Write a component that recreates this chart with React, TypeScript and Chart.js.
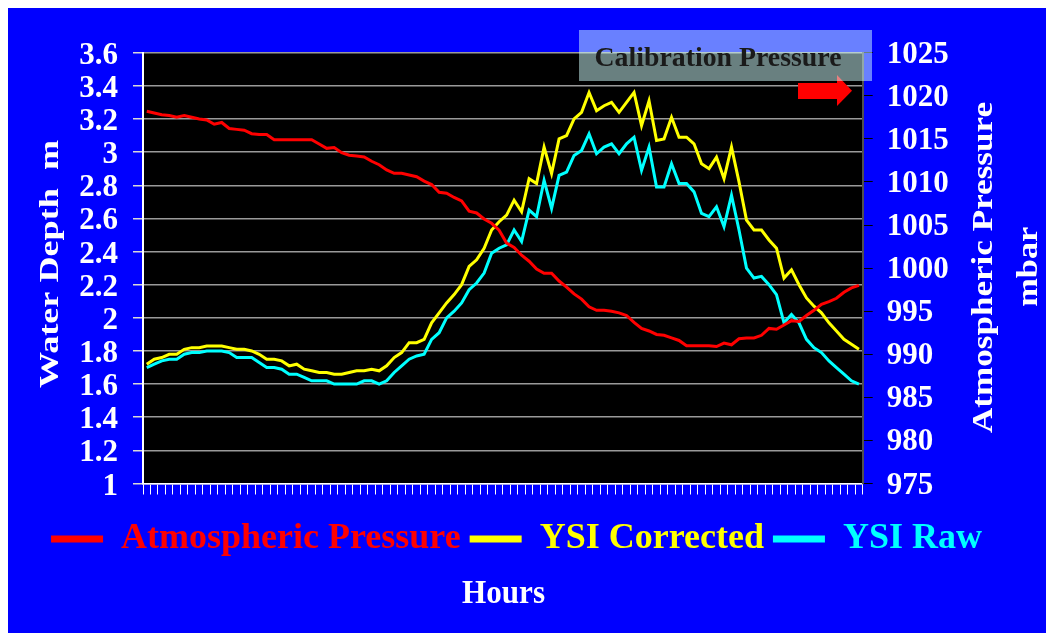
import React, { useEffect, useRef } from "react";
import { Chart, registerables } from "chart.js";

Chart.register(...registerables);

// ---------- data ----------
const hours = [
  "1", "2", "3", "4", "5", "6", "7", "8", "9", "10", "11", "12", "13", "14", "15", "16",
  "17", "18", "19", "20", "21", "22", "23", "24", "25", "26", "27", "28", "29", "30", "31", "32",
  "33", "34", "35", "36", "37", "38", "39", "40", "41", "42", "43", "44", "45", "46", "47", "48",
  "49", "50", "51", "52", "53", "54", "55", "56", "57", "58", "59", "60", "61", "62", "63", "64",
  "65", "66", "67", "68", "69", "70", "71", "72", "73", "74", "75", "76", "77", "78", "79", "80",
  "81", "82", "83", "84", "85", "86", "87", "88", "89", "90", "91", "92", "93", "94", "95", "96",
];

const atmosphericPressure = [
  1018.2, 1018.0, 1017.8, 1017.7, 1017.5, 1017.7, 1017.5, 1017.3, 1017.2, 1016.7, 1016.9, 1016.2,
  1016.1, 1016.0, 1015.6, 1015.5, 1015.5, 1014.9, 1014.9, 1014.9, 1014.9, 1014.9, 1014.9, 1014.4,
  1013.9, 1014.0, 1013.4, 1013.1, 1013.0, 1012.9, 1012.4, 1012.0, 1011.4, 1011.0, 1011.0, 1010.8,
  1010.6, 1010.1, 1009.7, 1008.8, 1008.7, 1008.2, 1007.8, 1006.6, 1006.4, 1005.7, 1005.2, 1004.4,
  1002.9, 1002.4, 1001.5, 1000.8, 999.9, 999.4, 999.4, 998.5, 997.8, 997.0, 996.4, 995.5,
  995.1, 995.1, 995.0, 994.8, 994.5, 993.7, 993.0, 992.7, 992.3, 992.2, 991.9, 991.6,
  991.0, 991.0, 991.0, 991.0, 990.9, 991.3, 991.1, 991.8, 991.9, 991.9, 992.2, 993.0,
  992.9, 993.4, 993.9, 993.8, 994.5, 995.1, 995.8, 996.1, 996.5, 997.2, 997.7, 998.0,
];

const ysiCorrected = [
  1.72, 1.75, 1.76, 1.78, 1.78, 1.81, 1.82, 1.82, 1.83, 1.83, 1.83, 1.82,
  1.81, 1.81, 1.80, 1.78, 1.75, 1.75, 1.74, 1.71, 1.72, 1.69, 1.68, 1.67,
  1.67, 1.66, 1.66, 1.67, 1.68, 1.68, 1.69, 1.68, 1.71, 1.76, 1.79, 1.85,
  1.85, 1.87, 1.97, 2.03, 2.09, 2.14, 2.20, 2.31, 2.35, 2.42, 2.53, 2.58,
  2.62, 2.71, 2.64, 2.84, 2.81, 3.03, 2.87, 3.08, 3.10, 3.20, 3.24, 3.36,
  3.25, 3.28, 3.30, 3.24, 3.30, 3.36, 3.16, 3.31, 3.07, 3.08, 3.21, 3.09,
  3.09, 3.05, 2.93, 2.90, 2.97, 2.84, 3.03, 2.82, 2.59, 2.53, 2.53, 2.47,
  2.42, 2.24, 2.29, 2.20, 2.12, 2.07, 2.03, 1.97, 1.92, 1.87, 1.84, 1.81,
];

const ysiRaw = [
  1.70, 1.72, 1.74, 1.75, 1.75, 1.78, 1.79, 1.79, 1.80, 1.80, 1.80, 1.79,
  1.76, 1.76, 1.76, 1.73, 1.70, 1.70, 1.69, 1.66, 1.66, 1.64, 1.62, 1.62,
  1.62, 1.60, 1.60, 1.60, 1.60, 1.62, 1.62, 1.60, 1.62, 1.67, 1.71, 1.75,
  1.77, 1.78, 1.87, 1.91, 2.00, 2.04, 2.09, 2.17, 2.21, 2.27, 2.39, 2.42,
  2.44, 2.53, 2.46, 2.65, 2.61, 2.83, 2.66, 2.86, 2.88, 2.98, 3.01, 3.11,
  2.99, 3.03, 3.05, 2.99, 3.05, 3.09, 2.89, 3.03, 2.79, 2.79, 2.93, 2.81,
  2.81, 2.76, 2.63, 2.61, 2.67, 2.55, 2.74, 2.53, 2.30, 2.24, 2.25, 2.20,
  2.14, 1.97, 2.02, 1.97, 1.87, 1.82, 1.79, 1.74, 1.70, 1.66, 1.62, 1.60,
];

const seriesNames = ["Atmospheric Pressure", "YSI Corrected", "YSI Raw"];
const seriesColors = ["#ff0000", "#ffff00", "#00ffff"];

const depthMin = 1;
const depthMax = 3.6;
const depthStep = 0.2;
const pressureMin = 975;
const pressureMax = 1025;
const pressureStep = 5;

const leftTitle = "Water Depth  m";
const rightTitleLines = ["Atmospheric Pressure", "mbar"];
const xTitle = "Hours";
const calibrationLabel = "Calibration Pressure";

// ---------- styling ----------
const SERIF = '"Liberation Serif", "Times New Roman", Times, serif';

function drawFitted(
  ctx: CanvasRenderingContext2D,
  text: string,
  x: number,
  y: number,
  targetWidth: number,
  rotate: number
) {
  const w = ctx.measureText(text).width;
  const s = targetWidth / w;
  ctx.save();
  ctx.translate(x, y);
  if (rotate) ctx.rotate(rotate);
  ctx.scale(s, 1);
  ctx.fillText(text, 0, 0);
  ctx.restore();
}

const decorPlugin = {
  id: "decor",
  beforeDraw(chart: any) {
    const { ctx, width, height, chartArea: a } = chart;
    ctx.save();
    ctx.fillStyle = "#0000ff";
    ctx.fillRect(0, 0, width, height);
    ctx.fillStyle = "#000000";
    ctx.fillRect(a.left, a.top, a.right - a.left, a.bottom - a.top);
    ctx.restore();
  },
  afterDraw(chart: any) {
    const ctx: CanvasRenderingContext2D = chart.ctx;
    ctx.save();
    // red arrow pointing at the calibration pressure
    ctx.fillStyle = "#ff0000";
    ctx.fillRect(790, 75, 39, 16);
    ctx.beginPath();
    ctx.moveTo(829, 67);
    ctx.lineTo(844, 82.7);
    ctx.lineTo(829, 98);
    ctx.closePath();
    ctx.fill();
    // translucent label box
    ctx.fillStyle = "rgba(210,255,255,0.5)";
    ctx.fillRect(571, 22, 293, 51);
    ctx.fillStyle = "#1a1a1a";
    ctx.font = `bold 27px ${SERIF}`;
    ctx.textAlign = "center";
    ctx.textBaseline = "alphabetic";
    drawFitted(ctx, calibrationLabel, 710, 58, 247, 0);

    // axis titles
    ctx.fillStyle = "#ffffff";
    ctx.font = `bold 28px ${SERIF}`;
    drawFitted(ctx, leftTitle, 50, 256, 248, -Math.PI / 2);
    ctx.font = `bold 29px ${SERIF}`;
    drawFitted(ctx, rightTitleLines[0], 983.6, 259.5, 331, -Math.PI / 2);
    drawFitted(ctx, rightTitleLines[1], 1028.7, 258.7, 80, -Math.PI / 2);
    ctx.font = `bold 33px ${SERIF}`;
    drawFitted(ctx, xTitle, 495.5, 595, 83, 0);
    ctx.restore();
  },
};

export default function App() {
  const canvasRef = useRef<HTMLCanvasElement | null>(null);

  useEffect(() => {
    const canvas = canvasRef.current;
    if (!canvas) return;
    const tickFont = { family: SERIF, size: 31, weight: "bold" as const };

    const chart = new Chart(canvas, {
      type: "line",
      data: {
        labels: hours,
        datasets: [
          {
            label: seriesNames[0],
            data: atmosphericPressure,
            yAxisID: "y1",
            borderColor: seriesColors[0],
            backgroundColor: seriesColors[0],
            borderWidth: 3,
            pointRadius: 0,
            tension: 0,
          },
          {
            label: seriesNames[1],
            data: ysiCorrected,
            yAxisID: "y",
            borderColor: seriesColors[1],
            backgroundColor: seriesColors[1],
            borderWidth: 3,
            pointRadius: 0,
            tension: 0,
          },
          {
            label: seriesNames[2],
            data: ysiRaw,
            yAxisID: "y",
            borderColor: seriesColors[2],
            backgroundColor: seriesColors[2],
            borderWidth: 3,
            pointRadius: 0,
            tension: 0,
          },
        ],
      },
      options: {
        responsive: false,
        animation: false,
        events: [],
        layout: { padding: { left: 0, right: 29, top: 44.7, bottom: 66 } },
        plugins: {
          title: { display: false },
          tooltip: { enabled: false },
          legend: {
            position: "bottom",
            align: "center",
            labels: {
              boxWidth: 52,
              boxHeight: 7,
              padding: 9,
              font: { family: SERIF, size: 36, weight: "bold" },
              generateLabels(c: any) {
                return c.data.datasets.map((ds: any, i: number) => ({
                  text: ds.label,
                  fillStyle: ds.borderColor,
                  strokeStyle: ds.borderColor,
                  fontColor: ds.borderColor,
                  lineWidth: 0,
                  hidden: false,
                  datasetIndex: i,
                }));
              },
            },
          },
        },
        scales: {
          x: {
            type: "category",
            offset: true,
            grid: {
              offset: true,
              drawOnChartArea: false,
              drawTicks: true,
              tickLength: 11,
              tickColor: "#ffffff",
              tickWidth: 1,
            },
            border: { color: "#ffffff", width: 1.5 },
            ticks: { display: false, autoSkip: false },
            afterFit(s: any) {
              s.height = 28.5;
            },
          },
          y: {
            position: "left",
            min: depthMin,
            max: depthMax,
            ticks: {
              stepSize: depthStep,
              autoSkip: false,
              color: "#ffffff",
              font: tickFont,
              padding: 15,
              labelOffset: 3,
              callback: (v: any) => String(Math.round(Number(v) * 10) / 10),
            },
            grid: {
              color: "#9a9a9a",
              lineWidth: 1.5,
              tickColor: "#d8d8d8",
              tickLength: 10,
            },
            border: { color: "#ffffff", width: 2 },
            afterFit(s: any) {
              s.width = 135;
            },
          },
          y1: {
            position: "right",
            min: pressureMin,
            max: pressureMax,
            ticks: {
              stepSize: pressureStep,
              autoSkip: false,
              color: "#ffffff",
              font: tickFont,
              padding: 14,
              labelOffset: 2,
              callback: (v: any) => String(Math.round(Number(v))),
            },
            grid: {
              drawOnChartArea: false,
              tickColor: "#000000",
              tickLength: 10,
            },
            border: { color: "#505050", width: 2 },
            afterFit(s: any) {
              s.width = 162.3;
            },
          },
        },
      },
      plugins: [decorPlugin],
    } as any);

    return () => chart.destroy();
  }, []);

  return (
    <div style={{ width: 1046, height: 625 }}>
      <canvas ref={canvasRef} width={1046} height={625} style={{ display: "block" }} />
    </div>
  );
}
